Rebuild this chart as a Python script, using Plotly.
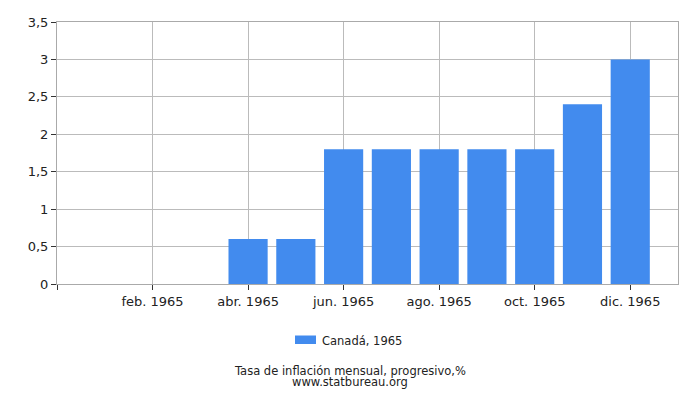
import plotly.graph_objects as go

# monthly progressive inflation, Canada 1965
months = ["ene. 1965", "feb. 1965", "mar. 1965", "abr. 1965", "may. 1965", "jun. 1965",
          "jul. 1965", "ago. 1965", "sep. 1965", "oct. 1965", "nov. 1965", "dic. 1965"]
values = [0, 0, 0, 0.6, 0.6, 1.8, 1.8, 1.8, 1.8, 1.8, 2.4, 3.0]
series_name = "Canadá, 1965"
title_text = "Tasa de inflación mensual, progresivo,%"
source_text = "www.statbureau.org"
bar_color = "#428bee"

idx = list(range(len(months)))
tick_idx = [-1] + idx[1::2]
tick_txt = [""] + months[1::2]

W, H = 700, 400
M_L, M_R, M_T, M_B = 57, 22, 22, 116
plot_w = W - M_L - M_R
plot_h = H - M_T - M_B


def px_x(px):
    return (px - M_L) / plot_w


def px_y(py):
    return (H - M_B - py) / plot_h


fig = go.Figure()
fig.add_bar(
    x=idx, y=values, name=series_name, showlegend=False,
    marker=dict(color=bar_color, line=dict(width=0)),
    width=0.82,
)

axis_font = dict(family="DejaVu Sans", size=13, color="#222")
fig.update_layout(
    width=W, height=H,
    margin=dict(l=M_L, r=M_R, t=M_T, b=M_B, autoexpand=False),
    paper_bgcolor="white", plot_bgcolor="white",
    separators=",.",
    font=dict(family="DejaVu Sans", size=12, color="#222"),
    xaxis=dict(
        range=[-1, 12], tickvals=tick_idx, ticktext=tick_txt,
        showgrid=True, gridcolor="#bbbbbb", gridwidth=1,
        showline=True, linecolor="#aaaaaa", mirror=True,
        ticks="outside", ticklen=5, tickcolor="#333",
        tickfont=axis_font, zeroline=False,
    ),
    yaxis=dict(
        range=[0, 3.5], dtick=0.5, tickformat="~g",
        showgrid=True, gridcolor="#bbbbbb", gridwidth=1,
        showline=True, linecolor="#aaaaaa", mirror=True,
        ticks="outside", ticklen=5, tickcolor="#333",
        tickfont=axis_font, zeroline=False,
    ),
)

# legend: wide swatch + label, like the original
fig.add_shape(
    type="rect", xref="paper", yref="paper",
    x0=px_x(295), x1=px_x(316), y0=px_y(344), y1=px_y(335.5),
    fillcolor=bar_color, line=dict(width=0),
)
fig.add_annotation(
    text=series_name, x=px_x(320), xref="paper", y=px_y(340.5), yref="paper",
    xanchor="left", yanchor="middle", showarrow=False, font=dict(size=11.5),
)

# footer lines (tightly stacked, as in the original)
for text, py in [(title_text, 371), (source_text, 382)]:
    fig.add_annotation(
        text=text, x=px_x(W / 2), xref="paper", y=px_y(py), yref="paper",
        yanchor="middle", showarrow=False, font=dict(size=11.5),
    )

# drop the default body margin so the figure sits at the window's corner
fig.write_html(
    "out.html",
    config={"displayModeBar": False},
    post_script="document.body.style.margin='0';",
)
